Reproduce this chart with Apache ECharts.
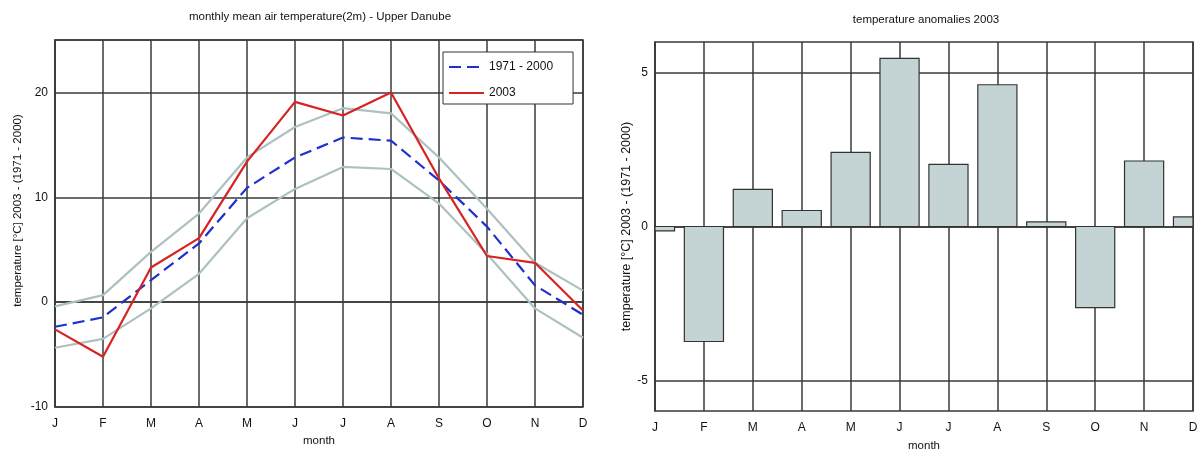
<!DOCTYPE html>
<html>
<head>
<meta charset="utf-8">
<script src="https://cdn.jsdelivr.net/npm/echarts@6/dist/echarts.min.js"></script>
<style>
html,body{margin:0;padding:0;background:#fff;}
#c{width:1198px;height:451px;}
</style>
</head>
<body>
<div id="c"></div>
<script>
const months = ['J','F','M','A','M','J','J','A','S','O','N','D'];
const mean7100 = [-2.35, -1.45, 2.1, 5.6, 10.9, 13.8, 15.7, 15.4, 11.6, 7.2, 1.6, -1.2];
const t2003 = [-2.6, -5.2, 3.3, 6.1, 13.4, 19.1, 17.8, 20.0, 11.8, 4.4, 3.75, -0.8];
const upperBand = [-0.4, 0.67, 4.8, 8.45, 13.8, 16.7, 18.5, 18.0, 13.8, 8.9, 3.75, 1.1];
const lowerBand = [-4.35, -3.5, -0.6, 2.7, 8.0, 10.8, 12.9, 12.7, 9.4, 4.6, -0.6, -3.4];
const anomalies = [-0.14, -3.74, 1.21, 0.52, 2.41, 5.47, 2.02, 4.61, 0.15, -2.64, 2.13, 0.31];
const leftTicks = [-10, 0, 10, 20];
const rightTicks = [-5, 0, 5];

const FONT = 'Liberation Sans, Arial, sans-serif';
const GRID = '#3a3a3a';
const GRAY = '#adc1c1';
const tr = 'rgba(0,0,0,0)';

function barItem(params, api) {
  const i = api.value(0), v = api.value(1);
  const p0 = api.coord([i, 0]);
  const p1 = api.coord([i, v]);
  const w = api.size([1, 0])[0] * 0.8;
  const cs = params.coordSys;
  const rect = echarts.graphic.clipRectByRect(
    {x: p0[0] - w / 2, y: Math.min(p0[1], p1[1]), width: w, height: Math.abs(p1[1] - p0[1])},
    {x: cs.x, y: cs.y, width: cs.width, height: cs.height});
  if (!rect) return null;
  return {type: 'rect', shape: rect, style: api.style()};
}

const chart = echarts.init(document.getElementById('c'));
chart.setOption({
  backgroundColor: '#fff',
  animation: false,
  textStyle: {fontFamily: FONT},
  title: [
    {text: 'monthly mean air temperature(2m) - Upper Danube', left: 320, top: 11, textAlign: 'center', padding: 0,
     textStyle: {fontSize: 11.5, fontWeight: 'normal', color: '#111', fontFamily: FONT}},
    {text: 'temperature anomalies 2003', left: 926, top: 14, textAlign: 'center', padding: 0,
     textStyle: {fontSize: 11.5, fontWeight: 'normal', color: '#111', fontFamily: FONT}}
  ],
  legend: {
    data: ['1971 - 2000', '2003'],
    orient: 'vertical',
    left: 443, top: 52,
    padding: [9, 20, 5, 5],
    itemGap: 14,
    itemWidth: 35, itemHeight: 14,
    backgroundColor: '#fff',
    borderColor: '#333', borderWidth: 1,
    itemStyle: {opacity: 0},
    textStyle: {fontSize: 12, color: '#111', fontFamily: FONT}
  },
  grid: [
    {left: 55, right: 615, top: 40, bottom: 44, show: true, borderColor: GRID, borderWidth: 1.5, backgroundColor: '#fff', outerBoundsMode: 'none'},
    {left: 655, right: 5, top: 42, bottom: 40, show: true, borderColor: GRID, borderWidth: 1.5, backgroundColor: '#fff', outerBoundsMode: 'none'}
  ],
  xAxis: [
    {type: 'category', gridIndex: 0, data: months, boundaryGap: false,
     name: 'month', nameLocation: 'middle', nameGap: 28,
     nameTextStyle: {fontSize: 11.5, color: '#111'},
     axisLine: {lineStyle: {color: GRID, width: 1.5}}, axisTick: {show: false},
     axisLabel: {fontSize: 12, color: '#111', margin: 11, interval: 0},
     splitLine: {show: true, lineStyle: {color: GRID, width: 1.5}}},
    {type: 'category', gridIndex: 1, data: months, boundaryGap: false,
     name: 'month', nameLocation: 'middle', nameGap: 29,
     nameTextStyle: {fontSize: 11.5, color: '#111'},
     axisLine: {lineStyle: {color: GRID, width: 1.5}}, axisTick: {show: false},
     axisLabel: {fontSize: 12, color: '#111', margin: 11, interval: 0},
     splitLine: {show: true, lineStyle: {color: GRID, width: 1.5}}}
  ],
  yAxis: [
    {type: 'value', gridIndex: 0, min: -10, max: 25, interval: 10,
     name: 'temperature [°C] 2003 - (1971 - 2000)', nameLocation: 'middle', nameGap: 31,
     nameTextStyle: {fontSize: 11.5, color: '#111', padding: [0, 0, 0, 26]},
     axisLine: {show: true, lineStyle: {color: GRID, width: 1.5}}, axisTick: {show: false},
     axisLabel: {fontSize: 12, color: '#111', margin: 7, showMaxLabel: false,
       formatter: v => leftTicks.indexOf(v) >= 0 ? String(v) : ''},
     splitLine: {show: true, lineStyle: {color: GRID, width: 1.5}}},
    {type: 'value', gridIndex: 1, min: -6, max: 6, interval: 1,
     name: 'temperature [°C] 2003 - (1971 - 2000)', nameLocation: 'middle', nameGap: 21,
     nameTextStyle: {fontSize: 12.5, color: '#111'},
     axisLine: {show: true, lineStyle: {color: GRID, width: 1.5}}, axisTick: {show: false},
     axisLabel: {fontSize: 12, color: '#111', margin: 7,
       formatter: v => rightTicks.indexOf(v) >= 0 ? String(v) : ''},
     splitLine: {show: true, lineStyle: {color: [tr, GRID, tr, tr, tr], width: 1.5}}}
  ],
  series: [
    {name: 'upper', type: 'line', xAxisIndex: 0, yAxisIndex: 0, data: upperBand, symbol: 'none',
     lineStyle: {color: GRAY, width: 2.2}, z: 2},
    {name: 'lower', type: 'line', xAxisIndex: 0, yAxisIndex: 0, data: lowerBand, symbol: 'none',
     lineStyle: {color: GRAY, width: 2.2}, z: 2},
    {name: '1971 - 2000', type: 'line', xAxisIndex: 0, yAxisIndex: 0, data: mean7100, symbol: 'none',
     color: '#1f2fd0', lineStyle: {color: '#1f2fd0', width: 2.2, type: [12, 6]}, z: 3},
    {name: '2003', type: 'line', xAxisIndex: 0, yAxisIndex: 0, data: t2003, symbol: 'none',
     color: '#d82222', lineStyle: {color: '#d82222', width: 2.2}, z: 4},
    {name: 'anomaly', type: 'custom', xAxisIndex: 1, yAxisIndex: 1,
     data: anomalies.map((v, i) => [i, v]),
     encode: {x: 0, y: 1},
     renderItem: barItem,
     itemStyle: {color: '#c4d4d5', borderColor: '#333', borderWidth: 1.2}}
  ]
});
</script>
</body>
</html>
